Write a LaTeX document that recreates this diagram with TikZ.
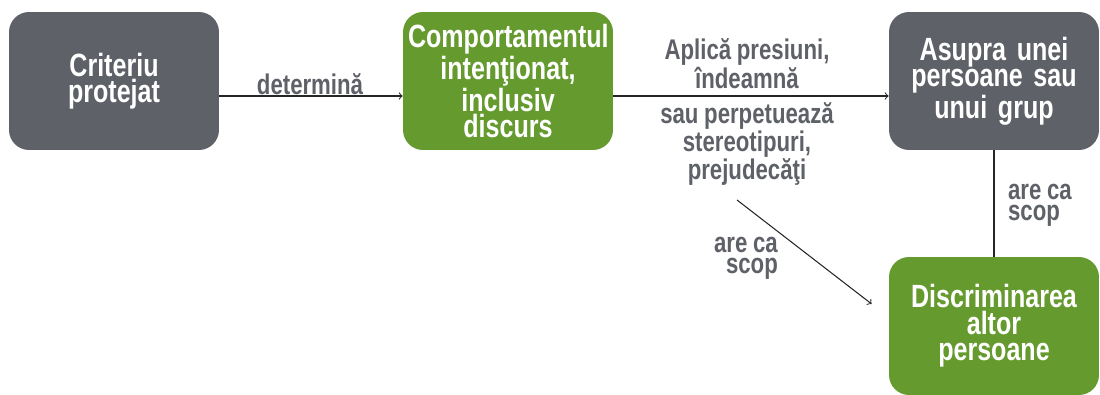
\documentclass[tikz,border=0pt]{standalone}
\usepackage{fontspec}
\setmainfont{Liberation Sans}[FakeStretch=0.78]
\usetikzlibrary{positioning,calc,arrows}
\definecolor{boxgray}{HTML}{5F6168}
\definecolor{boxgreen}{HTML}{659A2E}
\newcommand{\tightSpace}{\spaceskip 0.2em\relax}
\newcommand{\boxNode}[4]{\node[box, fill=#2] (#1) at (#3) {#4};}

\begin{document}
\begin{tikzpicture}[x=0.02cm, y=-0.02cm,
	box/.style={rounded corners=0.4cm, minimum width=4.2cm, minimum height=2.76cm,
		text width=4cm, align=center, text=white, inner sep=0pt,
		font=\bfseries\fontsize{18.3}{15}\selectfont\tightSpace},
	lbl/.style={text=boxgray, inner sep=0pt,
		font=\bfseries\fontsize{16.2}{12}\selectfont\tightSpace},
	arr/.style={->, draw=black!85, line width=0.6pt}]
	\useasboundingbox (0,0) rectangle (1100,395);
	\boxNode{crit}{boxgray}{114,81}{Criteriu\\protejat}
	\boxNode{comp}{boxgreen}{508,81}{Comportamentul\\intenţionat,\\inclusiv\\discurs}
	\boxNode{tinta}{boxgray}{994,81}{Asupra unei\\persoane sau\\unui grup}
	\boxNode{discr}{boxgreen}{994,326}{Discriminarea\\altor\\persoane}
	% legaturi
	\draw[arr] ([yshift=-0.3cm]crit.east) -- ([yshift=-0.3cm]comp.west);
	\draw[arr] ([yshift=-0.3cm]comp.east) -- ([yshift=-0.3cm]tinta.west);
	\draw[draw=black!85, line width=0.6pt] (tinta.south) -- (discr.north);
	\coordinate (dstart) at (737,200);
	\coordinate (dend) at ($(discr.west)+(-17,-22)$);
	\draw[arr] (dstart) -- (dend);
	% etichete
	\node[lbl] (ldet) at (310,84) {determină};
	\node[lbl, align=center] (lapl) at (747,64) {Aplică presiuni,\\îndeamnă};
	\node[lbl, align=center] (lsau) at (747,144) {sau perpetuează\\stereotipuri,\\prejudecăţi};
	\node[lbl, align=left] (lscop1) at (1040,205) {are ca\\scop};
	\node[lbl, align=right] (lscop2) at (746,258) {are ca\\scop};
\end{tikzpicture}
\end{document}
